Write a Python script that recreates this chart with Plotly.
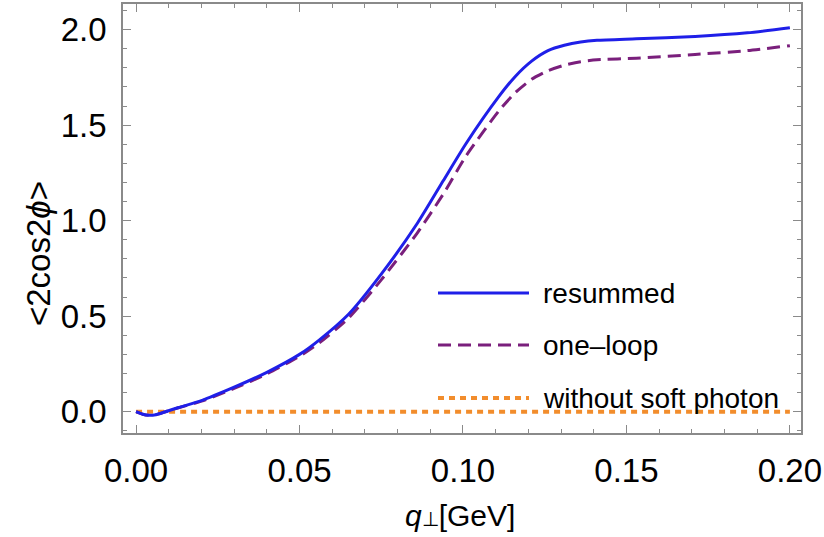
import plotly.graph_objects as go

# ---- data ----
q_perp = [0.0, 0.002, 0.004, 0.006, 0.009, 0.013, 0.02, 0.03, 0.04, 0.05, 0.056,
          0.065, 0.075, 0.086, 0.094, 0.101, 0.111, 0.116, 0.121, 0.126, 0.131,
          0.136, 0.141, 0.153, 0.171, 0.187, 0.2]
resummed = [0.0, -0.013, -0.019, -0.016, 0.0, 0.022, 0.058, 0.128, 0.206, 0.30, 0.375,
            0.51, 0.72, 0.985, 1.21, 1.405, 1.65, 1.755, 1.835, 1.89, 1.918,
            1.935, 1.944, 1.952, 1.964, 1.983, 2.01]
one_loop = [0.0, -0.013, -0.019, -0.016, 0.0, 0.021, 0.055, 0.122, 0.198, 0.29, 0.36,
            0.49, 0.69, 0.935, 1.14, 1.34, 1.575, 1.67, 1.74, 1.785, 1.814,
            1.832, 1.842, 1.85, 1.87, 1.89, 1.916]
no_soft_q = [0.0, 0.2]
no_soft = [0.0, 0.0]

series_names = ["resummed", "one\u2013loop", "without soft photon"]
x_tick_vals = [0.0, 0.05, 0.10, 0.15, 0.20]
x_tick_text = ["0.00", "0.05", "0.10", "0.15", "0.20"]
y_tick_vals = [0.0, 0.5, 1.0, 1.5, 2.0]
y_tick_text = ["0.0", "0.5", "1.0", "1.5", "2.0"]

BLUE = "#1f1fe8"
PURPLE = "#7a1f7c"
ORANGE = "#f28d2c"
FRAME = "#8a8a8a"
FONT = "Liberation Sans, Arial, Helvetica, sans-serif"

fig = go.Figure()
fig.add_trace(go.Scatter(x=no_soft_q, y=no_soft, mode="lines", name=series_names[2],
                         line=dict(color=ORANGE, width=4, dash="6px,5px")))
fig.add_trace(go.Scatter(x=q_perp, y=one_loop, mode="lines", name=series_names[1],
                         line=dict(color=PURPLE, width=3, dash="13px,7px", shape="spline", smoothing=0.6)))
fig.add_trace(go.Scatter(x=q_perp, y=resummed, mode="lines", name=series_names[0],
                         line=dict(color=BLUE, width=3, shape="spline", smoothing=0.6)))

axis_common = dict(
    showgrid=False, zeroline=False, showline=True, linecolor=FRAME, linewidth=1.5,
    mirror="allticks", ticks="inside", ticklen=8, tickwidth=1.2, tickcolor=FRAME,
    tickfont=dict(family=FONT, size=33, color="black"), automargin=False,
)
fig.update_xaxes(range=[-0.004, 0.2034], tickvals=x_tick_vals, ticktext=x_tick_text,
                 minor=dict(dtick=0.01, tick0=0, ticks="inside", ticklen=4, tickcolor=FRAME, tickwidth=1),
                 ticklabelstandoff=8, **axis_common)
fig.update_yaxes(range=[-0.1115, 2.134], tickvals=y_tick_vals, ticktext=y_tick_text,
                 minor=dict(dtick=0.1, tick0=0, ticks="inside", ticklen=4, tickcolor=FRAME, tickwidth=1),
                 ticklabelstandoff=8, **axis_common)

# axis titles
fig.add_annotation(xref="paper", yref="paper", x=(460 - 123) / 678, y=(433 - 515) / 429,
                   text="<i>q</i><span style='font-size:20px'>\u22a5</span>[GeV]", showarrow=False,
                   font=dict(family=FONT, size=30, color="black"),
                   xanchor="center", yanchor="middle")
fig.add_annotation(xref="paper", yref="paper", x=(38 - 123) / 678, y=(433 - 254) / 429,
                   text="&lt;2cos2<i>\u03d5</i>&gt;", showarrow=False, textangle=-90,
                   font=dict(family=FONT, size=33, color="black"),
                   xanchor="center", yanchor="middle")

# legend drawn inside the frame
legend_rows = [(293, BLUE, "solid", 3), (345, PURPLE, "13px,7px", 3), (398, ORANGE, "6px,5px", 4)]
for (py, col, dash, w), name in zip(legend_rows, series_names):
    yp = (433 - py) / 429
    fig.add_shape(type="line", xref="paper", yref="paper",
                  x0=(438 - 123) / 678, x1=(529 - 123) / 678, y0=yp, y1=yp,
                  line=dict(color=col, width=w, dash=dash))
    fig.add_annotation(xref="paper", yref="paper", x=(541 - 123) / 678, y=yp,
                       text=name, showarrow=False, xanchor="left", yanchor="middle",
                       font=dict(family=FONT, size=28, color="black"))

fig.update_layout(
    width=824, height=537, showlegend=False,
    margin=dict(l=123, r=23, t=4, b=104),
    paper_bgcolor="white", plot_bgcolor="white",
)

fig.write_html("out.html", config={"displayModeBar": False},
               post_script="document.body.style.margin='0';document.body.style.padding='0';")
